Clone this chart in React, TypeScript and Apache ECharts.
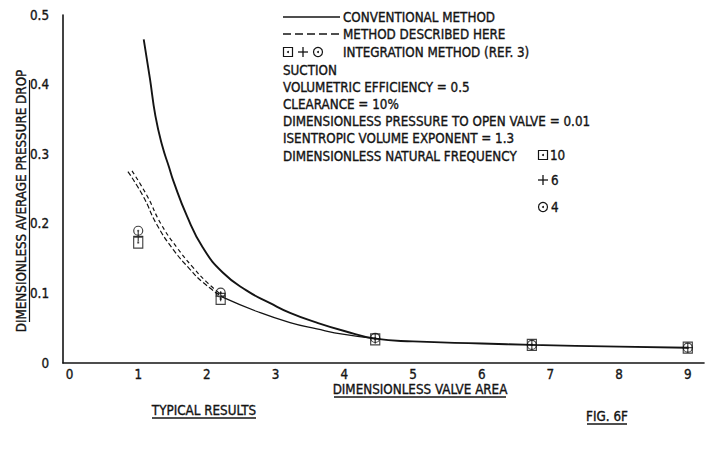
import React, { useEffect, useRef } from 'react';
import * as echarts from 'echarts';

// ---- data ----
const xTickValues = [0, 1, 2, 3, 4, 5, 6, 7, 8, 9];
const yTickValues = [0, 0.1, 0.2, 0.3, 0.4, 0.5];

const conventionalX = [1.08, 1.17, 1.25, 1.35, 1.45, 1.51, 1.71, 1.94, 2.23, 2.58, 2.92, 3.21, 3.6, 4.0, 4.45, 5.0, 6.0, 6.73, 8.0, 9.0];
const conventionalY = [0.465, 0.409, 0.355, 0.312, 0.281, 0.262, 0.211, 0.166, 0.13, 0.104, 0.086, 0.072, 0.058, 0.046, 0.035, 0.031, 0.028, 0.026, 0.0235, 0.022];

const describedAX = [0.85, 1.07, 1.27, 1.51, 1.75, 1.94, 2.22];
const describedAY = [0.275, 0.24, 0.199, 0.163, 0.135, 0.116, 0.095];
const describedBX = [0.91, 1.13, 1.33, 1.57, 1.8, 1.99, 2.22];
const describedBY = [0.276, 0.24, 0.2, 0.165, 0.137, 0.117, 0.097];
const describedSolidX = [2.22, 2.73, 3.21, 3.6, 4.0, 4.45];
const describedSolidY = [0.095, 0.074, 0.058, 0.049, 0.041, 0.035];

const markerX = [1.0, 2.2, 4.45, 6.73, 9.0];
const freq10Y = [0.173, 0.092, 0.034, 0.026, 0.022];
const freq6Y = [0.182, 0.096, 0.035, 0.026, 0.022];
const freq4Y = [0.19, 0.101, 0.036, 0.026, 0.022];

const legendLines = [
  'SUCTION',
  'VOLUMETRIC EFFICIENCY = 0.5',
  'CLEARANCE = 10%',
  'DIMENSIONLESS PRESSURE TO OPEN VALVE = 0.01',
  'ISENTROPIC VOLUME EXPONENT = 1.3',
  'DIMENSIONLESS NATURAL FREQUENCY',
];

const FONT = "'DejaVu Sans Condensed', 'Liberation Sans Narrow', 'DejaVu Sans', sans-serif";
const INK = '#141414';
const FS = 13.3;

const zip = (xs: number[], ys: number[]) => xs.map((x, i) => [x, ys[i]]);

const SQUARE = 'path://M0,0L10,0L10,11L0,11Z M4.6,5.1L5.4,5.1L5.4,5.9L4.6,5.9Z';
const PLUS = 'path://M0,5L10,5M5,0L5,10';
const CIRCLE = 'path://M10,5A5,5,0,1,1,0,5A5,5,0,1,1,10,5Z M5.5,5A0.5,0.5,0,1,1,4.5,5A0.5,0.5,0,1,1,5.5,5Z';

function txt(text: string, x: number, y: number, extra: any = {}) {
  return {
    type: 'text',
    x,
    y,
    z: 100,
    style: {
      text,
      fill: INK,
      stroke: INK,
      lineWidth: 0.35,
      font: `${FS}px ${FONT}`,
      fontSize: FS,
      fontFamily: FONT,
      align: extra.align || 'left',
      textAlign: extra.align || 'left',
      verticalAlign: 'middle',
      textVerticalAlign: 'middle',
    },
    rotation: extra.rotation || 0,
  };
}

function ln(x1: number, y1: number, x2: number, y2: number, w = 1.2, dash?: number[]) {
  return {
    type: 'line',
    z: 100,
    shape: { x1, y1, x2, y2 },
    style: { stroke: INK, lineWidth: w, lineDash: dash },
  };
}

function sqMark(cx: number, cy: number) {
  return [
    { type: 'rect', z: 100, shape: { x: cx - 4.5, y: cy - 4.5, width: 9, height: 9 }, style: { fill: 'none', stroke: INK, lineWidth: 1.2 } },
    { type: 'circle', z: 100, shape: { cx, cy, r: 1 }, style: { fill: INK } },
  ];
}
function plusMark(cx: number, cy: number) {
  return [ln(cx - 5, cy, cx + 5, cy, 1.3), ln(cx, cy - 5, cx, cy + 5, 1.3)];
}
function circMark(cx: number, cy: number) {
  return [
    { type: 'circle', z: 100, shape: { cx, cy, r: 4.5 }, style: { fill: 'none', stroke: INK, lineWidth: 1.2 } },
    { type: 'circle', z: 100, shape: { cx, cy, r: 1 }, style: { fill: INK } },
  ];
}

export default function App() {
  const ref = useRef<HTMLDivElement>(null);

  useEffect(() => {
    if (!ref.current) return;
    const chart = echarts.init(ref.current, undefined, { renderer: 'svg' });

    const lineBase = { type: 'line', showSymbol: false, smooth: true, silent: true, z: 3 };
    const scatterBase = {
      type: 'scatter',
      symbolKeepAspect: true,
      itemStyle: { color: 'rgba(0,0,0,0)', borderColor: INK, borderWidth: 1.2 },
      z: 5,
    };

    const legendGraphics: any[] = [
      ln(283, 17, 340, 17, 1.6),
      txt('CONVENTIONAL METHOD', 343, 17),
      ln(283, 34, 340, 34, 1.4, [8, 4]),
      txt('METHOD DESCRIBED HERE', 343, 34),
      ...sqMark(288, 52),
      ...plusMark(303, 52),
      ...circMark(318, 52),
      txt('INTEGRATION METHOD (REF. 3)', 343, 52),
      ...legendLines.map((s, i) => txt(s, 283, 70 + i * 17.2)),
      ...sqMark(543, 155),
      txt('10', 550, 155),
      ...plusMark(543, 180),
      txt('6', 551, 180),
      ...circMark(543, 207),
      txt('4', 551, 207),
    ];

    const titleGraphics: any[] = [
      txt('DIMENSIONLESS AVERAGE PRESSURE DROP', 21, 201, { align: 'center', rotation: Math.PI / 2 }),
      ln(29.5, 80, 29.5, 322, 1.2),
      txt('DIMENSIONLESS VALVE AREA', 420, 389, { align: 'center' }),
      ln(334, 397, 506, 397, 1.4),
      txt('TYPICAL RESULTS', 204, 410, { align: 'center' }),
      ln(152, 418, 256, 418, 1.4),
      txt('FIG. 6F', 607, 416, { align: 'center' }),
      ln(587, 424, 627, 424, 1.4),
    ];

    const labelStyle = {
      color: INK,
      fontSize: FS,
      fontFamily: FONT,
      textBorderColor: INK,
      textBorderWidth: 0.35,
    };

    chart.setOption({
      animation: false,
      backgroundColor: '#ffffff',
      grid: { left: 63, right: 1, top: 15, bottom: 98, containLabel: false },
      xAxis: {
        type: 'value',
        min: -0.095,
        max: 9.236,
        splitLine: { show: false },
        axisTick: { show: false },
        axisLine: { onZero: false, lineStyle: { color: INK, width: 1.6 } },
        axisLabel: {
          ...labelStyle,
          customValues: xTickValues,
          margin: 5,
          formatter: (v: number) => String(Math.round(v)),
        },
      },
      yAxis: {
        type: 'value',
        min: 0,
        max: 0.5,
        interval: 0.1,
        splitLine: { show: false },
        axisTick: { show: false },
        axisLine: { show: true, onZero: false, lineStyle: { color: INK, width: 1.6 } },
        axisLabel: {
          ...labelStyle,
          customValues: yTickValues,
          margin: 14,
          formatter: (v: number) => (v === 0 ? '0' : v.toFixed(1)),
        },
      },
      graphic: [...legendGraphics, ...titleGraphics],
      series: [
        { ...lineBase, name: 'Conventional method', data: zip(conventionalX, conventionalY), lineStyle: { color: INK, width: 1.9 } },
        { ...lineBase, name: 'Method described here (a)', data: zip(describedAX, describedAY), lineStyle: { color: INK, width: 1.2, type: [5, 2.5] } },
        { ...lineBase, name: 'Method described here (b)', data: zip(describedBX, describedBY), lineStyle: { color: INK, width: 1.2, type: [4, 3] } },
        { ...lineBase, name: 'Method described here', data: zip(describedSolidX, describedSolidY), lineStyle: { color: INK, width: 1.3 } },
        { ...scatterBase, name: 'Natural frequency 10', symbol: SQUARE, symbolSize: [10, 11], data: zip(markerX, freq10Y) },
        { ...scatterBase, name: 'Natural frequency 6', symbol: PLUS, symbolSize: 10, data: zip(markerX, freq6Y) },
        { ...scatterBase, name: 'Natural frequency 4', symbol: CIRCLE, symbolSize: 9, data: zip(markerX, freq4Y) },
      ],
    });

    return () => chart.dispose();
  }, []);

  return (
    <div
      ref={ref}
      style={{ position: 'fixed', left: 0, top: 0, width: 705, height: 461, background: '#fff' }}
    />
  );
}
